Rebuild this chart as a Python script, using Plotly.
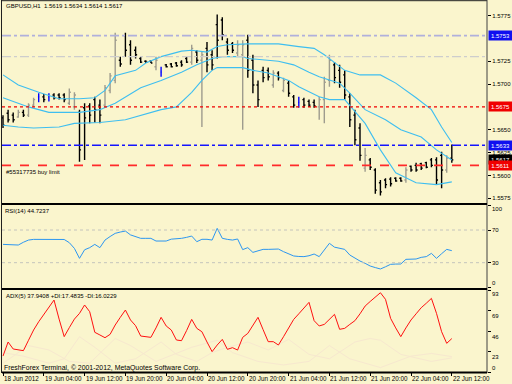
import plotly.graph_objects as go

FONT = "Liberation Sans, Arial, sans-serif"
BG = "#FAF5CD"
W, H = 512, 384

# ---------------- data ----------------
bar_idx = list(range(89))  # hourly bars 18 Jun 20:00 .. 22 Jun 12:00

bar_open = [1.5663, 1.5668, 1.5666, 1.5664, 1.5669, 1.5666, 1.5677, 1.5686, 1.5686, 1.5686,
            1.5688, 1.5688, 1.5688, 1.5679, 1.5675, 1.5669, 1.5674, 1.5676, 1.5683, 1.5677,
            1.5677, 1.5693, 1.5704, 1.5726, 1.5753, 1.5743, 1.5737, 1.5728, 1.5725, 1.5725,
            1.5719, 1.5713, 1.5721, 1.5722, 1.5723, 1.5724, 1.5728, 1.5724, 1.5735, 1.5726,
            1.5739, 1.5732, 1.5765, 1.5770, 1.5746, 1.5744, 1.5734, 1.5732, 1.5748, 1.5726,
            1.5699, 1.5715, 1.5715, 1.5699, 1.5712, 1.5693, 1.5701, 1.5686, 1.5680, 1.5683,
            1.5681, 1.5680, 1.5675, 1.5683, 1.5704, 1.5721, 1.5715, 1.5710, 1.5686, 1.5666,
            1.5652, 1.5608, 1.5617, 1.5606, 1.5592, 1.5595, 1.5596, 1.5597, 1.5597, 1.5595,
            1.5610, 1.5611, 1.5613, 1.5614, 1.5617, 1.5617, 1.5622, 1.5606, 1.5619]
bar_high = [1.5666, 1.5672, 1.5669, 1.5672, 1.5672, 1.5679, 1.5685, 1.5690, 1.5689, 1.5690,
            1.5690, 1.5690, 1.5690, 1.5695, 1.5691, 1.5672, 1.5679, 1.5679, 1.5686, 1.5683,
            1.5699, 1.5712, 1.5756, 1.5730, 1.5756, 1.5748, 1.5741, 1.5730, 1.5726, 1.5726,
            1.5730, 1.5719, 1.5722, 1.5723, 1.5724, 1.5726, 1.5730, 1.5743, 1.5737, 1.5735,
            1.5746, 1.5737, 1.5776, 1.5773, 1.5750, 1.5746, 1.5748, 1.5748, 1.5754, 1.5732,
            1.5704, 1.5719, 1.5718, 1.5715, 1.5714, 1.5707, 1.5704, 1.5688, 1.5686, 1.5685,
            1.5683, 1.5683, 1.5686, 1.5708, 1.5732, 1.5724, 1.5721, 1.5715, 1.5690, 1.5672,
            1.5657, 1.5630, 1.5619, 1.5608, 1.5595, 1.5597, 1.5598, 1.5598, 1.5598, 1.5609,
            1.5611, 1.5614, 1.5614, 1.5615, 1.5619, 1.5620, 1.5626, 1.5622, 1.5634]
bar_low = [1.5652, 1.5658, 1.5658, 1.5663, 1.5664, 1.5664, 1.5675, 1.5680, 1.5680, 1.5681,
           1.5683, 1.5683, 1.5680, 1.5677, 1.5672, 1.5615, 1.5617, 1.5657, 1.5658, 1.5657,
           1.5674, 1.5690, 1.5701, 1.5719, 1.5730, 1.5721, 1.5728, 1.5723, 1.5723, 1.5723,
           1.5715, 1.5708, 1.5718, 1.5718, 1.5719, 1.5719, 1.5723, 1.5721, 1.5723, 1.5653,
           1.5713, 1.5715, 1.5728, 1.5748, 1.5732, 1.5734, 1.5730, 1.5650, 1.5707, 1.5690,
           1.5675, 1.5702, 1.5704, 1.5696, 1.5704, 1.5691, 1.5686, 1.5674, 1.5674, 1.5674,
           1.5675, 1.5674, 1.5661, 1.5657, 1.5697, 1.5701, 1.5696, 1.5683, 1.5653, 1.5633,
           1.5616, 1.5604, 1.5606, 1.5580, 1.5578, 1.5586, 1.5588, 1.5593, 1.5593, 1.5592,
           1.5604, 1.5604, 1.5606, 1.5608, 1.5609, 1.5590, 1.5586, 1.5603, 1.5614]
bar_close = [1.5655, 1.5661, 1.5661, 1.5669, 1.5666, 1.5677, 1.5683, 1.5686, 1.5683, 1.5686,
             1.5685, 1.5685, 1.5683, 1.5691, 1.5688, 1.5628, 1.5663, 1.5666, 1.5672, 1.5666,
             1.5696, 1.5709, 1.5748, 1.5722, 1.5737, 1.5726, 1.5732, 1.5724, 1.5724, 1.5723,
             1.5726, 1.5713, 1.5719, 1.5719, 1.5720, 1.5721, 1.5724, 1.5739, 1.5726, 1.5732,
             1.5721, 1.5721, 1.5748, 1.5754, 1.5737, 1.5737, 1.5743, 1.5743, 1.5715, 1.5699,
             1.5683, 1.5707, 1.5708, 1.5712, 1.5707, 1.5704, 1.5690, 1.5677, 1.5680, 1.5677,
             1.5677, 1.5676, 1.5683, 1.5702, 1.5726, 1.5707, 1.5702, 1.5688, 1.5661, 1.5639,
             1.5622, 1.5622, 1.5609, 1.5584, 1.5582, 1.5590, 1.5591, 1.5594, 1.5594, 1.5606,
             1.5606, 1.5606, 1.5608, 1.5609, 1.5611, 1.5595, 1.5606, 1.5619, 1.5617]

# channel lines (vertices read at bar indices)
upper_idx = [0, 3, 7, 11, 15, 18, 20, 22, 26, 28, 31, 35, 37, 40, 42, 44, 48, 54, 58, 61, 63, 67, 70, 74, 77, 81, 84, 86, 88]
upper_val = [1.5710, 1.5699, 1.5691, 1.5684, 1.5684, 1.5685, 1.5693, 1.5709, 1.5715, 1.5723, 1.5730, 1.5736, 1.5737,
             1.5735, 1.5741, 1.5743, 1.5744, 1.5744, 1.5741, 1.5739, 1.5732, 1.5715, 1.5710, 1.5710, 1.5701, 1.5685,
             1.5672, 1.5653, 1.5636]
middle_idx = [0, 5, 9, 15, 19, 22, 27, 31, 35, 38, 41, 43, 47, 48, 54, 57, 60, 62, 66, 68, 71, 75, 78, 82, 85, 88]
middle_val = [1.5685, 1.5675, 1.5669, 1.5669, 1.5672, 1.5679, 1.5696, 1.5704, 1.5713, 1.5721, 1.5728, 1.5730, 1.5730,
              1.5728, 1.5725, 1.5721, 1.5713, 1.5708, 1.5701, 1.5690, 1.5672, 1.5661, 1.5650, 1.5642, 1.5628, 1.5617]
lower_idx = [0, 3, 6, 11, 14, 19, 24, 27, 31, 34, 35, 37, 39, 41, 42, 47, 49, 52, 56, 58, 62, 64, 67, 71, 74, 77, 81, 85, 88]
lower_val = [1.5655, 1.5653, 1.5652, 1.5653, 1.5657, 1.5658, 1.5661, 1.5666, 1.5672, 1.5675, 1.5680, 1.5691, 1.5704,
             1.5715, 1.5718, 1.5718, 1.5715, 1.5712, 1.5704, 1.5697, 1.5686, 1.5683, 1.5683, 1.5657, 1.5628, 1.5603,
             1.5592, 1.5590, 1.5593]

# horizontal order / level lines
level_prices = [1.5753, 1.5730, 1.5675, 1.5633, 1.5611]
level_colors = ["#B0B0DC", "#CDCDCD", "#F00000", "#1414FF", "#FF2A2A"]
level_dash = ["dashdot", "dashdot", "dot", "dashdot", "dash"]
level_width = [1.6, 1.2, 1.3, 1.6, 1.6]
box_prices = [1.5753, 1.5675, 1.5633, 1.5617, 1.5611]
box_colors = ["#1010F0", "#F00000", "#1010F0", "#000000", "#F00000"]

price_ticks = [1.5775, 1.5725, 1.5700, 1.5650, 1.5625, 1.5600, 1.5575]

rsi = [52.4, 52.2, 52.0, 51.6, 55.0, 57.7, 58.5, 58.6, 58.4, 58.6,
       58.5, 58.6, 58.4, 54.5, 47.5, 35.3, 45.8, 48.4, 52.4, 48.4,
       57.7, 62.0, 65.9, 67.5, 68.7, 64.0, 62.0, 59.8, 59.8, 59.8,
       56.5, 56.5, 56.5, 58.8, 59.2, 59.8, 61.0, 62.6, 55.7, 58.6,
       58.6, 57.7, 72.0, 59.8, 58.5, 57.7, 59.0, 46.0, 48.4, 42.6,
       44.5, 46.3, 46.3, 46.5, 46.7, 43.5, 41.0, 38.2, 37.6, 37.4,
       38.5, 40.6, 37.4, 46.0, 53.7, 49.0, 47.5, 46.3, 39.4, 35.3,
       32.0, 29.2, 25.9, 24.0, 22.3, 25.0, 28.0, 28.3, 28.4, 34.1,
       34.3, 34.5, 36.5, 37.4, 41.4, 35.3, 41.0, 46.3, 44.7]
rsi_levels = [70, 30]
rsi_ticks = [100, 70, 30, 0]

adx = [18.1, 34.0, 26.1, 25.0, 24.2, 36.0, 47.6, 57.0, 65.4, 74.0,
       81.6, 60.0, 40.1, 50.3, 60.0, 66.5, 76.0, 68.4, 45.0, 42.0,
       38.9, 42.7, 53.3, 62.0, 70.3, 59.0, 52.5, 40.8, 40.0, 39.3,
       50.0, 62.0, 52.2, 47.6, 36.3, 35.5, 47.0, 59.7, 49.5, 45.7,
       34.0, 23.1, 30.6, 37.0, 25.7, 27.6, 24.9, 39.3, 43.8, 53.0,
       62.0, 48.0, 34.4, 34.4, 30.6, 40.0, 50.0, 59.7, 66.0, 72.2,
       79.0, 58.2, 52.2, 54.0, 59.7, 65.4, 48.4, 49.5, 54.0, 58.2,
       66.0, 74.8, 80.0, 85.0, 89.9, 82.4, 60.8, 50.0, 40.1, 50.0,
       59.0, 66.0, 72.9, 78.0, 83.5, 66.5, 45.7, 32.5, 37.9]
di_plus_idx = [0, 5, 9, 13, 17, 22, 25, 30, 37, 42, 45, 50, 55, 60, 64, 68, 74, 80, 84, 88]
di_plus = [10, 30, 25, 12, 10, 38, 30, 12, 28, 36, 22, 12, 8, 12, 30, 15, 5, 18, 21, 17.5]
di_minus_idx = [0, 4, 9, 12, 15, 18, 22, 26, 31, 34, 38, 41, 44, 48, 52, 56, 60, 64, 69, 72, 74, 78, 84, 88]
di_minus = [22, 18, 10, 15, 40, 28, 10, 15, 34, 20, 12, 22, 28, 34, 25, 37, 20, 15, 34, 38, 36, 20, 12, 16]
adx_ticks = [93, 69.75, 46.5, 23.25, 0]
adx_tick_text = ["93", "69", "46", "23", "0"]

time_bars = [0, 8, 16, 24, 32, 40, 48, 56, 64, 72, 80, 88]
time_labels = ["18 Jun 2012", "19 Jun 04:00", "19 Jun 12:00", "19 Jun 20:00", "20 Jun 04:00",
               "20 Jun 12:00", "20 Jun 20:00", "21 Jun 04:00", "21 Jun 12:00", "21 Jun 20:00",
               "22 Jun 04:00", "22 Jun 12:00"]

header_text = "GBPUSD,H1  1.5619 1.5634 1.5614 1.5617"
order_text = "#55317735 buy limit"
rsi_text = "RSI(14) 44.7237"
adx_text = "ADX(5) 37.9408 +DI:17.4835 -DI:16.0229"
copyright_text = "FreshForex Terminal, \u00a9 2001-2012, MetaQuotes Software Corp."

# ---------------- geometry helpers (pixels -> paper) ----------------
def px(x):
    return x / W

def py(y):
    return 1 - y / H

X_LEFT, X_RIGHT = 2, 487
MAIN_DOM = [py(203), py(1)]
RSI_DOM = [py(288), py(204.5)]
ADX_DOM = [py(372), py(290)]

fig = go.Figure()

# ---------------- price bars ----------------
groups = {
    "up": ([], "#9E9C8E"),
    "down": ([], "#000000"),
    "doji": ([], "#0000FF"),
}
for i in bar_idx:
    if bar_close[i] > bar_open[i]:
        groups["up"][0].append(i)
    elif bar_close[i] < bar_open[i]:
        groups["down"][0].append(i)
    else:
        groups["doji"][0].append(i)

# channel lines first (drawn beneath bars)
for xs, ys in ((upper_idx, upper_val), (middle_idx, middle_val), (lower_idx, lower_val)):
    fig.add_trace(go.Scatter(x=xs, y=ys, mode="lines", xaxis="x", yaxis="y",
                             line=dict(color="#3EBEF0", width=1.1), hoverinfo="skip"))

for name, (idxs, col) in groups.items():
    fig.add_trace(go.Ohlc(
        x=idxs,
        open=[bar_open[i] for i in idxs], high=[bar_high[i] for i in idxs],
        low=[bar_low[i] for i in idxs], close=[bar_close[i] for i in idxs],
        xaxis="x", yaxis="y",
        increasing=dict(line=dict(color=col, width=1.4)),
        decreasing=dict(line=dict(color=col, width=1.4)),
        tickwidth=0.3 if name != "doji" else 0.15,
        hoverinfo="skip", name=name,
    ))

# ---------------- RSI ----------------
fig.add_trace(go.Scatter(x=bar_idx, y=rsi, mode="lines", xaxis="x", yaxis="y2",
                         line=dict(color="#2C96F0", width=1), hoverinfo="skip"))

# ---------------- ADX ----------------
fig.add_trace(go.Scatter(x=di_plus_idx, y=di_plus, mode="lines", xaxis="x", yaxis="y3",
                         line=dict(color="#F7E8CF", width=1), hoverinfo="skip"))
fig.add_trace(go.Scatter(x=di_minus_idx, y=di_minus, mode="lines", xaxis="x", yaxis="y3",
                         line=dict(color="#F7E8CF", width=1), hoverinfo="skip"))
fig.add_trace(go.Scatter(x=bar_idx, y=adx, mode="lines", xaxis="x", yaxis="y3",
                         line=dict(color="#FF1010", width=1), hoverinfo="skip"))

shapes = []
# level lines in the main panel
for p, c, d, w in zip(level_prices, level_colors, level_dash, level_width):
    shapes.append(dict(type="line", xref="paper", yref="y", x0=px(X_LEFT), x1=px(X_RIGHT), y0=p, y1=p,
                       line=dict(color=c, width=w, dash=d)))
# RSI levels
for lv in rsi_levels:
    shapes.append(dict(type="line", xref="paper", yref="y2", x0=px(X_LEFT), x1=px(X_RIGHT), y0=lv, y1=lv,
                       line=dict(color="#C4C4BC", width=1, dash="dot")))
# frame
shapes.append(dict(type="line", xref="paper", yref="paper", x0=px(X_LEFT), x1=px(X_RIGHT),
                   y0=py(0.7), y1=py(0.7), line=dict(color="#202020", width=1)))
shapes.append(dict(type="line", xref="paper", yref="paper", x0=px(1.5), x1=px(1.5),
                   y0=py(0), y1=py(373), line=dict(color="#202020", width=1)))
shapes.append(dict(type="line", xref="paper", yref="paper", x0=px(X_RIGHT), x1=px(X_RIGHT),
                   y0=py(0), y1=py(373), line=dict(color="#404040", width=1)))
for yy in (204, 289, 372.5):
    shapes.append(dict(type="line", xref="paper", yref="paper", x0=px(X_LEFT), x1=px(X_RIGHT),
                       y0=py(yy), y1=py(yy), line=dict(color="#000000", width=2)))

ann = []
small = dict(family=FONT, size=6, color="#000000")
ann.append(dict(xref="paper", yref="paper", x=px(4), y=py(6), xanchor="left", yanchor="middle",
                text=header_text, showarrow=False, font=small))
ann.append(dict(xref="paper", yref="paper", x=px(4), y=py(172), xanchor="left", yanchor="middle",
                text=order_text, showarrow=False, font=small))
ann.append(dict(xref="paper", yref="paper", x=px(3), y=py(211), xanchor="left", yanchor="middle",
                text=rsi_text, showarrow=False, font=small))
ann.append(dict(xref="paper", yref="paper", x=px(4), y=py(296), xanchor="left", yanchor="middle",
                text=adx_text, showarrow=False, font=small))
ann.append(dict(xref="paper", yref="paper", x=px(2), y=py(368), xanchor="left", yanchor="middle",
                text=copyright_text, showarrow=False, font=dict(family=FONT, size=6.9, color="#000000")))

# price boxes on the right scale
for p, c in zip(box_prices, box_colors):
    ann.append(dict(xref="paper", yref="y", x=px(488), y=p, xanchor="left", yanchor="middle",
                    text=f"{p:.4f}", showarrow=False, bgcolor=c, borderpad=1, width=21, height=7,
                    font=dict(family=FONT, size=6, color="#FFFFFF")))

# RSI scale labels
rsi_shift = {100: -3.5, 70: 0, 30: 0, 0: 4}
for v in rsi_ticks:
    ann.append(dict(xref="paper", yref="y2", x=px(490), y=v, xanchor="left", yanchor="middle",
                    yshift=rsi_shift[v], text=str(v), showarrow=False, font=small))
# ADX scale labels
adx_shift = [-4, -5, -5.5, -5, 4]
for v, t, s in zip(adx_ticks, adx_tick_text, adx_shift):
    ann.append(dict(xref="paper", yref="y3", x=px(490), y=v, xanchor="left", yanchor="middle",
                    yshift=s, text=t, showarrow=False, font=small))
# time labels
for b, t in zip(time_bars, time_labels):
    ann.append(dict(xref="x", yref="paper", x=b, y=py(378.5), xanchor="left", yanchor="middle",
                    xshift=-1, text=t, showarrow=False, font=dict(family=FONT, size=6.3, color="#000000")))

axis_common = dict(showgrid=False, zeroline=False, fixedrange=True)
fig.update_layout(
    width=W, height=H, autosize=False,
    margin=dict(l=0, r=0, t=0, b=0, pad=0),
    paper_bgcolor=BG, plot_bgcolor=BG, showlegend=False,
    shapes=shapes, annotations=ann,
    xaxis=dict(domain=[px(X_LEFT), px(X_RIGHT)], range=[-0.196, 94.9], anchor="y3",
               tickvals=time_bars, ticks="outside", ticklen=3, tickcolor="#000000",
               showticklabels=False, rangeslider=dict(visible=False), **axis_common),
    yaxis=dict(domain=MAIN_DOM, range=[1.556987, 1.579086], side="right", anchor="x",
               tickvals=price_ticks, ticktext=[f"{v:.4f}" for v in price_ticks],
               ticks="outside", ticklen=3, tickcolor="#000000",
               tickfont=dict(family=FONT, size=6, color="#000000"), **axis_common),
    yaxis2=dict(domain=RSI_DOM, range=[-0.98, 101.2], side="right", anchor="x",
                tickvals=rsi_ticks, ticks="outside", ticklen=3, tickcolor="#000000",
                showticklabels=False, **axis_common),
    yaxis3=dict(domain=ADX_DOM, range=[0, 93.0], side="right", anchor="x",
                tickvals=adx_ticks, ticks="outside", ticklen=3, tickcolor="#000000",
                showticklabels=False, **axis_common),
)

fig.write_html("out.html", config={"displayModeBar": False, "staticPlot": True},
               post_script="document.body.style.margin='0';document.body.style.background='%s';" % BG)
